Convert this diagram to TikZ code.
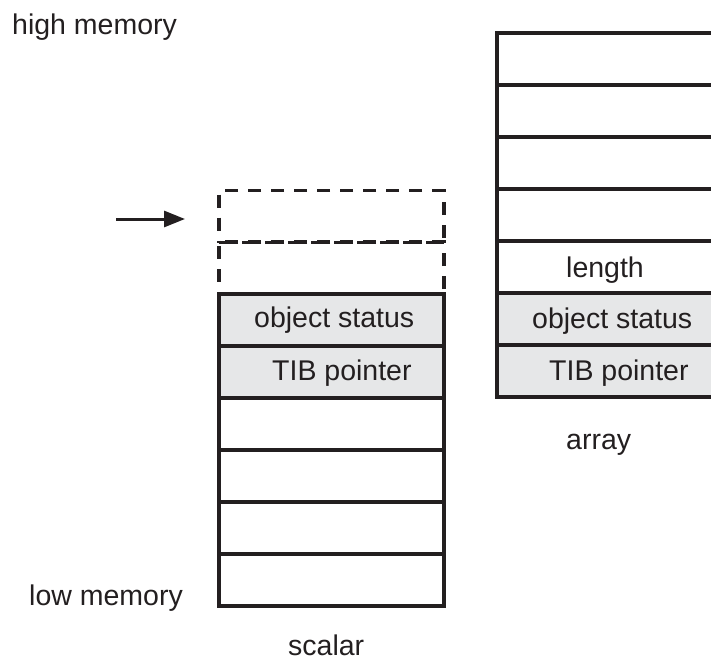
\documentclass[tikz,border=0pt]{standalone}
\usepackage{fontspec}
\setmainfont{Liberation Sans}
\usetikzlibrary{arrows.meta}
\definecolor{ink}{HTML}{231F20}
\definecolor{cellgray}{HTML}{E6E7E8}
\begin{document}
\begin{tikzpicture}[x=1pt,y=-1pt,
  cell/.style={draw=ink, line width=3.2pt, rectangle, inner sep=0pt,
    minimum width=225pt, minimum height=52pt},
  dcell/.style={cell, dash pattern=on 13pt off 10pt},
  gcell/.style={cell, fill=cellgray},
  lbl/.style={anchor=base west, inner sep=0pt, text=ink,
    font=\fontsize{28.5}{34}\selectfont}]
\useasboundingbox (0,0) rectangle (711,661);
\clip (0,0) rectangle (711,661);
% scalar
\node[dcell] (d1) at (331.5,216.5) {};
\node[dcell] (d2) at (331.5,268) {};
\node[gcell] (s1) at (331.5,320) {};
\node[gcell] (s2) at (331.5,372) {};
\node[cell] (s3) at (331.5,424) {};
\node[cell] (s4) at (331.5,476) {};
\node[cell] (s5) at (331.5,528) {};
\node[cell] (s6) at (331.5,580) {};
% array
\node[cell] (a1) at (609.5,59) {};
\node[cell] (a2) at (609.5,111) {};
\node[cell] (a3) at (609.5,163) {};
\node[cell] (a4) at (609.5,215) {};
\node[cell] (a5) at (609.5,267) {};
\node[gcell] (a6) at (609.5,319) {};
\node[gcell] (a7) at (609.5,371) {};
% texts
\node[lbl] (t1) at (254,327) {object status};
\node[lbl] (t2) at (272,380) {TIB pointer};
\node[lbl] (t3) at (566,277) {length};
\node[lbl] (t4) at (532,328) {object status};
\node[lbl] (t5) at (549,380) {TIB pointer};
\node[lbl] (hm) at (12,35) {high memory};
\node[lbl] (lm) at (29,605) {low memory};
\node[lbl] (sc) at (288,655) {scalar};
\node[lbl] (ar) at (566,449) {array};
% arrow
\coordinate (p0) at (116,219);
\coordinate (p1) at (185,219);
\draw[ink, line width=3pt, -{Triangle[length=21pt,width=16pt]}] (p0) -- (p1);
\end{tikzpicture}
\end{document}
